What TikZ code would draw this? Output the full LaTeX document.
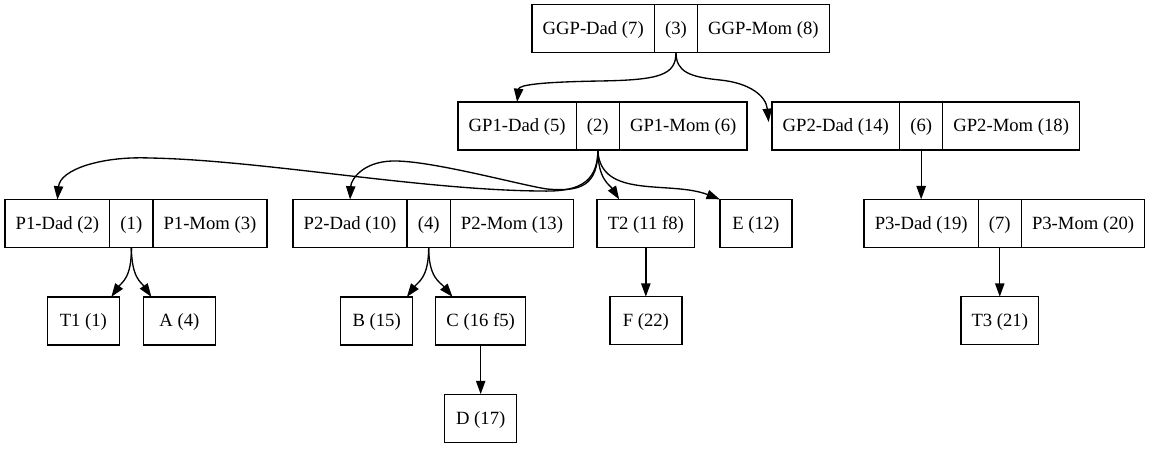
\documentclass[tikz,border=0pt]{standalone}
\usepackage{fontspec}
\setmainfont{Liberation Serif}
\usepackage{tikz}
\usetikzlibrary{arrows.meta,positioning}

\begin{document}
\begin{tikzpicture}[
          x=0.75pt, y=-0.75pt,
          every node/.style={font=\fontsize{14}{17}\selectfont},
          fld/.style={draw, line width=1pt, outer sep=0pt, inner xsep=8pt, inner ysep=0pt,
                      minimum height=36pt, text height=12pt, text depth=3pt},
          leaf/.style={fld, minimum width=54pt},
          arr/.style={-{Triangle[length=10pt,width=7pt]}, line width=1pt},
        ]
          \useasboundingbox (0,0) rectangle (1149,449);
          % records
          \node[fld, anchor=west] (ggpd) at (532,28.5) {GGP-Dad (7)};
          \node[fld, right=0pt of ggpd] (ggp)  {(3)};
          \node[fld, right=0pt of ggp]  (ggpm) {GGP-Mom (8)};
          \node[fld, anchor=west] (gp1d) at (458,126) {GP1-Dad (5)};
          \node[fld, right=0pt of gp1d] (gp1)  {(2)};
          \node[fld, right=0pt of gp1]  (gp1m) {GP1-Mom (6)};
          \node[fld, anchor=west] (gp2d) at (772,126) {GP2-Dad (14)};
          \node[fld, right=0pt of gp2d] (gp2)  {(6)};
          \node[fld, right=0pt of gp2]  (gp2m) {GP2-Mom (18)};
          \node[fld, anchor=west] (p1d) at (5,223.5) {P1-Dad (2)};
          \node[fld, right=0pt of p1d] (p1)  {(1)};
          \node[fld, right=0pt of p1]  (p1m) {P1-Mom (3)};
          \node[fld, anchor=west] (p2d) at (293,223.5) {P2-Dad (10)};
          \node[fld, right=0pt of p2d] (p2)  {(4)};
          \node[fld, right=0pt of p2]  (p2m) {P2-Mom (13)};
          \node[fld, below=37pt of gp2] (p3d) {P3-Dad (19)};
          \node[fld, right=0pt of p3d] (p3)  {(7)};
          \node[fld, right=0pt of p3]  (p3m) {P3-Mom (20)};
          % single boxes
          \node[leaf, below=37pt of gp1, xshift=36pt]    (t2) {T2 (11 f8)};
          \node[leaf, below=37pt of gp1, xshift=118.5pt] (e)  {E (12)};
          \node[leaf, below=37pt of p1, xshift=-36pt] (t1) {T1 (1)};
          \node[leaf, below=37pt of p1, xshift=36pt]  (a)  {A (4)};
          \node[leaf, below=37pt of p2, xshift=-39pt] (b)  {B (15)};
          \node[leaf, below=37pt of p2, xshift=39pt]  (c)  {C (16 f5)};
          \node[leaf, below=37pt of t2] (f)  {F (22)};
          \node[leaf, below=37pt of p3] (t3) {T3 (21)};
          \node[leaf, below=37pt of c]  (d)  {D (17)};
          \coordinate (gp2in) at ([xshift=-2.5pt, yshift=-15pt]gp2d.north west);
          % edges
          \draw[arr] (ggp.south) .. controls (676,75) and (660,80) .. (600,81)
                     .. controls (540,82) and (519,85) .. (gp1d.north);
          \draw[arr] (ggp.south) .. controls (676,72) and (690,77) .. (720,80)
                     .. controls (750,83) and (766,96) .. (gp2in);
          \draw[arr] (gp1.south) .. controls (598,185) and (575,192) .. (540,191)
                     .. controls (420,190) and (260,160) .. (150,158)
                     .. controls (100,156) and (60,170) .. (p1d.north);
          \draw[arr] (gp1.south) .. controls (598,186) and (580,192) .. (547,189)
                     .. controls (520,185) and (430,160) .. (392,161)
                     .. controls (362,162) and (351,180) .. (p2d.north);
          \draw[arr] (gp1.south) .. controls (598,180) and (610,185) .. ([xshift=16.5pt]t2.north west);
          \draw[arr] (gp1.south) .. controls (600,200) and (670,180) .. (e.north west);
          \draw[arr] (gp2.south) -- (p3d.north);
          \draw[arr] (p1.south) .. controls (131.7,278) and (122,282) .. ([xshift=-6pt]t1.north east);
          \draw[arr] (p1.south) .. controls (131.7,278) and (141,282) .. ([xshift=6pt]a.north west);
          \draw[arr] (p2.south) .. controls (428.7,278) and (418,282) .. ([xshift=-4.3pt]b.north east);
          \draw[arr] (p2.south) .. controls (428.7,278) and (440,282) .. ([xshift=12.5pt]c.north west);
          \draw[arr] (t2.south) -- (f.north);
          \draw[arr] (c.south)  -- (d.north);
          \draw[arr] (p3.south) -- (t3.north);
        \end{tikzpicture}
\end{document}
